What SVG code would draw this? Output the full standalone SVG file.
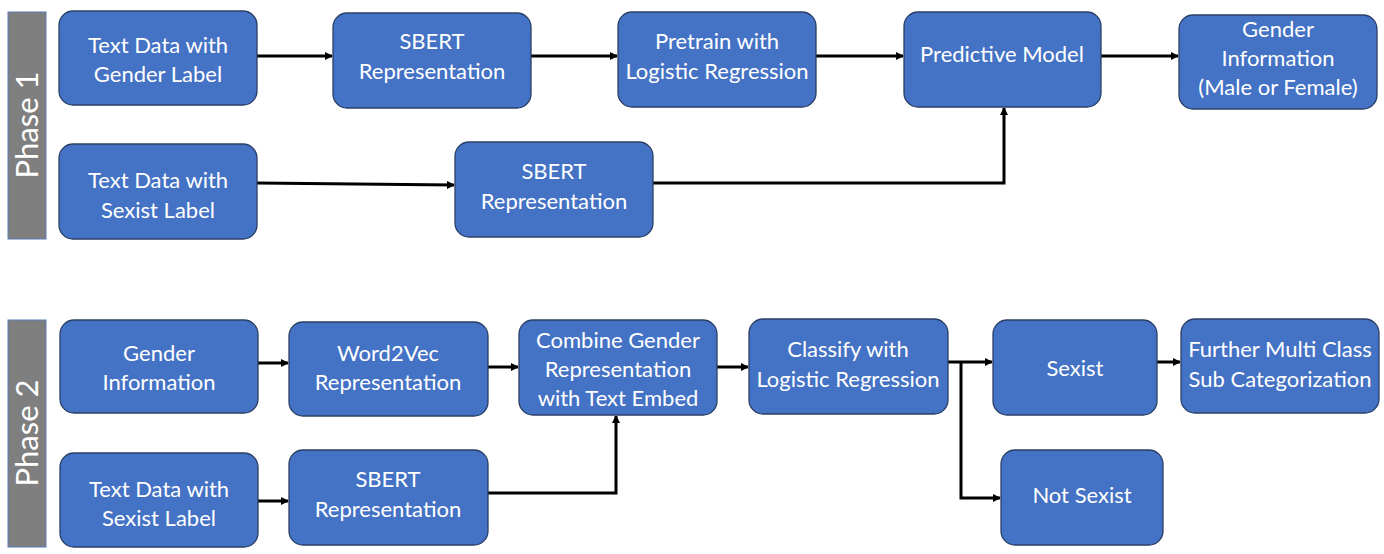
<svg xmlns="http://www.w3.org/2000/svg" width="1384" height="554" viewBox="0 0 1384 554">
<style>
.n{fill:#4472C4;stroke:#2a3f66;stroke-width:1.3}
.t{font-family:Lato,"Open Sans","Liberation Sans",sans-serif;font-size:22px;fill:#ffffff;text-anchor:middle}
.ph{fill:#7f7f7f;stroke:#5b7bb5;stroke-width:1}
.pt{font-family:Lato,"Open Sans","Liberation Sans",sans-serif;font-size:31px;fill:#ffffff;text-anchor:middle}
.c{fill:none;stroke:#000;stroke-width:3;marker-end:url(#ah)}
</style>
<defs>
<marker id="ah" markerWidth="10" markerHeight="10" refX="7" refY="4" orient="auto" markerUnits="userSpaceOnUse">
<path d="M0,0 L8,4 L0,8 Z" fill="#000"/>
</marker>
</defs>
<rect width="1384" height="554" fill="#ffffff"/>
<g id="phase1">
<rect class="ph" x="8" y="12" width="38" height="227"/>
<text class="pt" transform="translate(38,125) rotate(-90)">Phase 1</text>
</g>
<g id="phase2">
<rect class="ph" x="8" y="320" width="38" height="227"/>
<text class="pt" transform="translate(38,433) rotate(-90)">Phase 2</text>
</g>
<g id="connectors">
<path class="c" d="M257,56 H332"/>
<path class="c" d="M531,56 H617"/>
<path class="c" d="M816,56 H903"/>
<path class="c" d="M1101,56 H1178"/>
<path class="c" d="M257,183 L454,185"/>
<path class="c" d="M653,183 H1004 V108"/>
<path class="c" d="M258,363 H288"/>
<path class="c" d="M258,501 H288"/>
<path class="c" d="M488,367 H518"/>
<path class="c" d="M488,493 H616 V416"/>
<path class="c" d="M717,367 H748"/>
<path class="c" d="M948,362 H992"/>
<path class="c" d="M961,362 V498 H1000"/>
<path class="c" d="M1157,362 H1180"/>
</g>
<g id="n1"><rect class="n" x="59" y="11" width="198" height="94" rx="14"/><text class="t" x="158" y="53">Text Data with</text><text class="t" x="158" y="82">Gender Label</text></g>
<g id="n2"><rect class="n" x="333" y="13" width="198" height="95" rx="14"/><text class="t" x="432" y="49">SBERT</text><text class="t" x="432" y="79">Representation</text></g>
<g id="n3"><rect class="n" x="618" y="12" width="198" height="95" rx="14"/><text class="t" x="717" y="49">Pretrain with</text><text class="t" x="717" y="79">Logistic Regression</text></g>
<g id="n4"><rect class="n" x="904" y="12" width="197" height="95" rx="14"/><text class="t" x="1002" y="62">Predictive Model</text></g>
<g id="n5"><rect class="n" x="1179" y="15" width="198" height="94" rx="14"/><text class="t" x="1278" y="37">Gender</text><text class="t" x="1278" y="66">Information</text><text class="t" x="1278" y="95">(Male or Female)</text></g>
<g id="n6"><rect class="n" x="59" y="144" width="198" height="95" rx="14"/><text class="t" x="158" y="188">Text Data with</text><text class="t" x="158" y="218">Sexist Label</text></g>
<g id="n7"><rect class="n" x="455" y="142" width="198" height="95" rx="14"/><text class="t" x="554" y="179">SBERT</text><text class="t" x="554" y="209">Representation</text></g>
<g id="n8"><rect class="n" x="60" y="320" width="198" height="93" rx="14"/><text class="t" x="159" y="361">Gender</text><text class="t" x="159" y="390">Information</text></g>
<g id="n9"><rect class="n" x="289" y="322" width="199" height="94" rx="14"/><text class="t" x="388" y="361">Word2Vec</text><text class="t" x="388" y="390">Representation</text></g>
<g id="n10"><rect class="n" x="60" y="453" width="198" height="94" rx="14"/><text class="t" x="159" y="497">Text Data with</text><text class="t" x="159" y="526">Sexist Label</text></g>
<g id="n11"><rect class="n" x="289" y="450" width="199" height="95" rx="14"/><text class="t" x="388" y="487">SBERT</text><text class="t" x="388" y="517">Representation</text></g>
<g id="n12"><rect class="n" x="519" y="320" width="198" height="95" rx="14"/><text class="t" x="618" y="348">Combine Gender</text><text class="t" x="618" y="377">Representation</text><text class="t" x="618" y="406">with Text Embed</text></g>
<g id="n13"><rect class="n" x="749" y="319" width="199" height="95" rx="14"/><text class="t" x="848" y="357">Classify with</text><text class="t" x="848" y="387">Logistic Regression</text></g>
<g id="n14"><rect class="n" x="993" y="320" width="164" height="95" rx="14"/><text class="t" x="1075" y="376">Sexist</text></g>
<g id="n15"><rect class="n" x="1181" y="319" width="198" height="94" rx="14"/><text class="t" x="1280" y="357">Further Multi Class</text><text class="t" x="1280" y="387">Sub Categorization</text></g>
<g id="n16"><rect class="n" x="1001" y="450" width="162" height="95" rx="14"/><text class="t" x="1082" y="503">Not Sexist</text></g>
</svg>
